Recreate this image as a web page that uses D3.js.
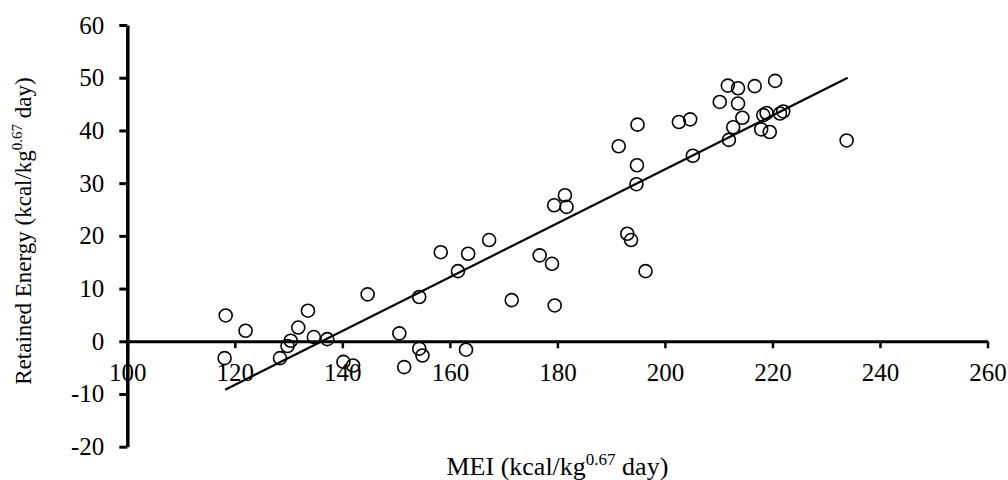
<!DOCTYPE html>
<html>
<head>
<meta charset="utf-8">
<script src="https://cdn.jsdelivr.net/npm/d3@7"></script>
<style>
  body { margin: 0; background: #fff; }
  text { font-family: "Liberation Serif", "Times New Roman", serif; fill: #000; }
</style>
</head>
<body>
<script>
// MEI vs retained energy
var mei = [118.3, 118.1, 122.0, 128.4, 129.8, 130.4, 131.8, 133.6, 134.7, 137.2,
           140.2, 142.0, 144.7, 150.6, 151.5, 154.3, 154.3, 154.9, 158.3, 161.5,
           163.0, 163.4, 167.3, 171.5, 176.7, 179.0, 179.5, 179.4, 181.4, 181.7,
           191.4, 193.0, 193.7, 194.8, 194.7, 194.9, 196.4, 202.6, 204.7, 205.2,
           210.2, 211.7, 213.6, 213.6, 214.4, 212.7, 211.9, 216.7, 220.5, 218.3,
           218.9, 217.9, 219.5, 221.4, 222.0, 233.8];
var retained = [4.9, -3.2, 2.0, -3.2, -0.9, 0.1, 2.6, 5.8, 0.8, 0.4,
                -3.9, -4.6, 8.9, 1.5, -4.9, 8.4, -1.4, -2.7, 16.9, 13.3,
                -1.6, 16.6, 19.2, 7.8, 16.3, 14.7, 6.8, 25.8, 27.7, 25.5,
                37.0, 20.4, 19.2, 33.4, 29.8, 41.1, 13.3, 41.6, 42.1, 35.2,
                45.4, 48.5, 48.0, 45.1, 42.4, 40.6, 38.2, 48.4, 49.4, 42.9,
                43.3, 40.2, 39.7, 43.2, 43.6, 38.1];

var xTicks = [100, 120, 140, 160, 180, 200, 220, 240, 260];
var yTicks = [-20, -10, 0, 10, 20, 30, 40, 50, 60];

// linear trend line
var trendSlope = 0.511, trendIntercept = -69.6;
var trendRange = [118.2, 234.0];

var width = 1008, height = 480;

var svg = d3.select("body").append("svg")
    .attr("width", width)
    .attr("height", height);

var x = d3.scaleLinear().domain([100, 260]).range([127.3, 987.5]);
var y = d3.scaleLinear().domain([-20, 60]).range([446.7, 25]);

var fmt = function(d) { return String(d); };  // plain hyphen for negatives

// y axis
var yAxis = svg.append("g")
    .attr("transform", "translate(" + x(100) + ",0)")
    .call(d3.axisLeft(y).tickValues(yTicks).tickFormat(fmt)
      .tickSize(8).tickSizeOuter(0).tickPadding(15));
yAxis.select(".domain").attr("stroke-width", 3.5);
yAxis.selectAll(".tick line").attr("stroke-width", 3);
yAxis.selectAll("text").attr("font-size", 25).attr("font-family", "Liberation Serif");

// x axis sits on y = 0
var xAxis = svg.append("g")
    .attr("transform", "translate(0," + y(0) + ")")
    .call(d3.axisBottom(x).tickValues(xTicks).tickFormat(fmt)
      .tickSize(7).tickSizeOuter(0).tickPadding(15));
xAxis.select(".domain").attr("stroke-width", 2.8);
xAxis.selectAll(".tick line").attr("stroke-width", 2.5);
xAxis.selectAll("text").attr("font-size", 25).attr("font-family", "Liberation Serif");

// points
svg.append("g").selectAll("circle")
    .data(mei)
    .enter().append("circle")
    .attr("cx", function(d) { return x(d); })
    .attr("cy", function(d, i) { return y(retained[i]); })
    .attr("r", 6.5)
    .attr("fill", "none")
    .attr("stroke", "#000")
    .attr("stroke-width", 1.6);

// trend line
var line = d3.line()
    .x(function(d) { return x(d); })
    .y(function(d) { return y(trendSlope * d + trendIntercept); });
svg.append("path")
    .datum(trendRange)
    .attr("d", line)
    .attr("fill", "none")
    .attr("stroke", "#000")
    .attr("stroke-width", 2.2);

// axis titles
var xt = svg.append("text")
    .attr("x", (x(100) + x(260)) / 2)
    .attr("y", 475)
    .attr("text-anchor", "middle")
    .attr("font-size", 26);
xt.append("tspan").text("MEI (kcal/kg");
xt.append("tspan").attr("font-size", 17).attr("dy", -10).text("0.67");
xt.append("tspan").attr("dy", 10).text(" day)");

var yt = svg.append("text")
    .attr("transform", "translate(31,231) rotate(-90)")
    .attr("text-anchor", "middle")
    .attr("font-size", 23);
yt.append("tspan").text("Retained Energy (kcal/kg");
yt.append("tspan").attr("font-size", 15).attr("dy", -9).text("0.67");
yt.append("tspan").attr("dy", 9).text(" day)");
</script>
</body>
</html>
